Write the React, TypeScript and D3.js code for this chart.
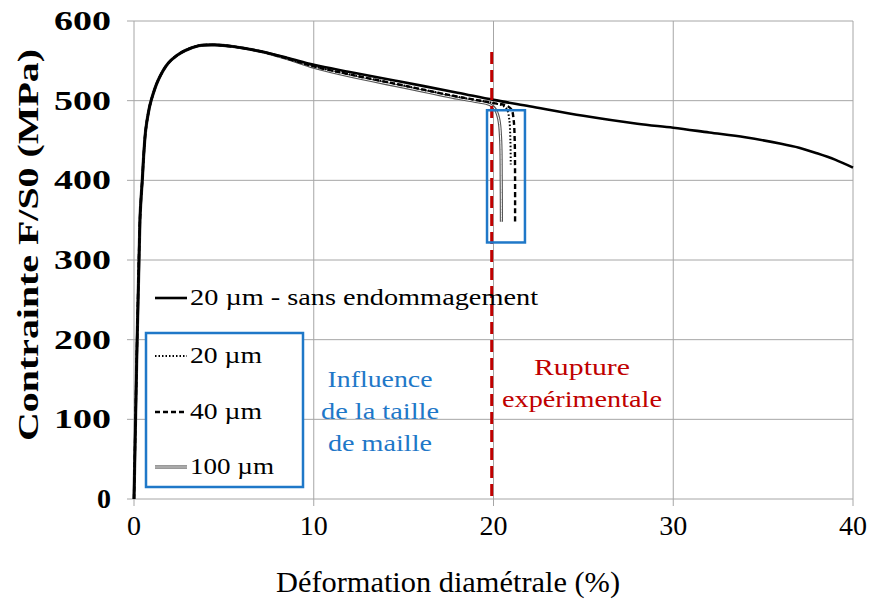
import React from "react";
import * as d3 from "d3";

const xTicks = [0, 10, 20, 30, 40];
const yTicks = [0, 100, 200, 300, 400, 500, 600];

// 20 µm - sans endommagement
const refX = [0, 0.33, 0.4, 0.46, 0.55, 0.65, 0.8, 0.95, 1.35, 1.9, 2.4, 2.85, 3.6, 4.5, 5.5, 7, 8.5, 10, 12, 14.8, 18, 20, 22, 25, 28, 30, 32, 34, 36, 37, 38, 39, 40];
const refY = [0, 350, 380, 400, 435, 463, 485, 500, 526, 547, 557, 563, 569, 570, 568, 562, 554, 545, 536, 524, 510, 501, 493, 481, 471, 466, 460, 454, 446, 441, 434, 426, 416];

// 20 µm (dotted)
const d20X = [0, 0.33, 0.4, 0.46, 0.55, 0.65, 0.8, 0.95, 1.35, 1.9, 2.4, 2.85, 3.6, 4.5, 5.5, 7, 8.5, 10, 12, 14.8, 18, 19, 20, 20.5, 20.75, 20.88, 20.94, 20.96];
const d20Y = [0, 350, 380, 400, 435, 463, 485, 500, 526, 547, 557, 563, 569, 570, 568, 562, 553, 543, 533, 520, 505, 501, 497, 494, 489, 476, 450, 420];

// 40 µm (dashed)
const d40X = [0, 0.33, 0.4, 0.46, 0.55, 0.65, 0.8, 0.95, 1.35, 1.9, 2.4, 2.85, 3.6, 4.5, 5.5, 7, 8.5, 10, 12, 14.8, 18, 19, 20, 20.7, 21.0, 21.12, 21.18, 21.2, 21.2];
const d40Y = [0, 350, 380, 400, 435, 463, 485, 500, 526, 547, 557, 563, 569, 570, 568, 562, 553, 543, 533, 520, 505, 501, 497, 494, 489, 476, 450, 400, 348];

// 100 µm (double line)
const d100X = [0, 0.33, 0.4, 0.46, 0.55, 0.65, 0.8, 0.95, 1.35, 1.9, 2.4, 2.85, 3.6, 4.5, 5.5, 7, 8.5, 10, 12, 14.8, 18, 19, 19.8, 20.1, 20.3, 20.4, 20.43, 20.44];
const d100Y = [0, 350, 380, 400, 435, 463, 485, 500, 526, 547, 557, 563, 569, 570, 568, 562, 553, 542, 531, 518, 503, 499, 495, 489, 476, 450, 400, 348];

const ruptureX = 19.9;
const ruptureTop = 561;
const boxX = [19.64, 21.75];
const boxY = [322, 488];

export default function App() {
  const W = 873, H = 603;
  const x = d3.scaleLinear().domain([0, 40]).range([134, 853]);
  const y = d3.scaleLinear().domain([0, 600]).range([499, 21]);
  const line = (xs: number[], ys: number[]) =>
    d3.line<number>().x((d, i) => x(xs[i])).y((d, i) => y(ys[i])).curve(d3.curveCatmullRom)(xs) as string;
  const grid = "#a6a6a6";
  const font = "'Liberation Serif', 'DejaVu Serif', 'Times New Roman', Times, serif";
  const blue = "#1f78c8";
  const red = "#c00000";

  return (
    <svg width={W} height={H} style={{ position: "absolute", left: 0, top: 0, background: "#fff", fontFamily: font }}>
      {/* grid */}
      {xTicks.map((t) => (
        <line key={"gx" + t} x1={x(t)} x2={x(t)} y1={y(600)} y2={y(0) + 7} stroke={grid} strokeWidth={1} />
      ))}
      {yTicks.map((t) => (
        <line key={"gy" + t} x1={x(0) - 7} x2={x(40)} y1={y(t)} y2={y(t)} stroke={grid} strokeWidth={1} />
      ))}
      {/* tick labels */}
      {xTicks.map((t) => (
        <text key={"tx" + t} x={x(t)} y={535} textAnchor="middle" fontSize={28} style={{ fontFamily: font }}>{t}</text>
      ))}
      {yTicks.map((t) => (
        <text key={"ty" + t} x={111} y={y(t) + 9} textAnchor="end" fontSize={28} fontWeight="bold" style={{ fontFamily: font }} textLength={t === 0 ? undefined : 57} lengthAdjust="spacingAndGlyphs">{t}</text>
      ))}
      {/* axis titles */}
      <text x={448} y={592} textAnchor="middle" fontSize={30} textLength={344} lengthAdjust="spacingAndGlyphs" style={{ fontFamily: font }}>Déformation diamétrale (%)</text>
      <text transform={`translate(38,${245}) rotate(-90)`} textAnchor="middle" fontSize={30} fontWeight="bold" textLength={392} lengthAdjust="spacingAndGlyphs" style={{ fontFamily: font }}>Contrainte F/S0 (MPa)</text>

      {/* curves */}
      <path d={line(d100X, d100Y)} fill="none" stroke="#555" strokeWidth={3.2} />
      <path d={line(d100X, d100Y)} fill="none" stroke="#fff" strokeWidth={1} />
      <path d={line(d20X, d20Y)} fill="none" stroke="#000" strokeWidth={2} strokeDasharray="1.5,2" />
      <path d={line(d40X, d40Y)} fill="none" stroke="#000" strokeWidth={2.4} strokeDasharray="5,3" />
      <path d={line(refX, refY)} fill="none" stroke="#000" strokeWidth={2.6} />

      {/* rupture line */}
      <line x1={x(ruptureX)} x2={x(ruptureX)} y1={y(ruptureTop)} y2={y(0)} stroke={red} strokeWidth={3} strokeDasharray="12,6" />
      {/* blue box */}
      <rect x={x(boxX[0])} y={y(boxY[1])} width={x(boxX[1]) - x(boxX[0])} height={y(boxY[0]) - y(boxY[1])} fill="none" stroke={blue} strokeWidth={2.5} />

      {/* legend */}
      <g style={{ fontFamily: font }} fontSize={23}>
        <line x1={155} x2={187} y1={298} y2={298} stroke="#000" strokeWidth={2.6} />
        <text x={190} y={305} textLength={348} lengthAdjust="spacingAndGlyphs">20 µm - sans endommagement</text>
        <rect x={146} y={333} width={157} height={154} fill="#fff" stroke={blue} strokeWidth={2.5} />
        <line x1={155} x2={187} y1={356} y2={356} stroke="#000" strokeWidth={2} strokeDasharray="1.5,2" />
        <text x={190} y={363} textLength={72} lengthAdjust="spacingAndGlyphs">20 µm</text>
        <line x1={155} x2={187} y1={412} y2={412} stroke="#000" strokeWidth={2.4} strokeDasharray="5,3" />
        <text x={190} y={419} textLength={72} lengthAdjust="spacingAndGlyphs">40 µm</text>
        <line x1={155} x2={187} y1={467} y2={467} stroke="#555" strokeWidth={3.2} />
        <line x1={155} x2={187} y1={467} y2={467} stroke="#fff" strokeWidth={1} />
        <text x={190} y={474} textLength={84} lengthAdjust="spacingAndGlyphs">100 µm</text>
      </g>

      {/* annotations */}
      <g fill={blue} fontSize={23} textAnchor="middle" style={{ fontFamily: font }}>
        <text x={380} y={387} textLength={105} lengthAdjust="spacingAndGlyphs">Influence</text>
        <text x={380} y={419} textLength={118} lengthAdjust="spacingAndGlyphs">de la taille</text>
        <text x={380} y={451} textLength={104} lengthAdjust="spacingAndGlyphs">de maille</text>
      </g>
      <g fill={red} fontSize={23} textAnchor="middle" style={{ fontFamily: font }}>
        <text x={582} y={375} textLength={96} lengthAdjust="spacingAndGlyphs">Rupture</text>
        <text x={582} y={407} textLength={160} lengthAdjust="spacingAndGlyphs">expérimentale</text>
      </g>
    </svg>
  );
}
